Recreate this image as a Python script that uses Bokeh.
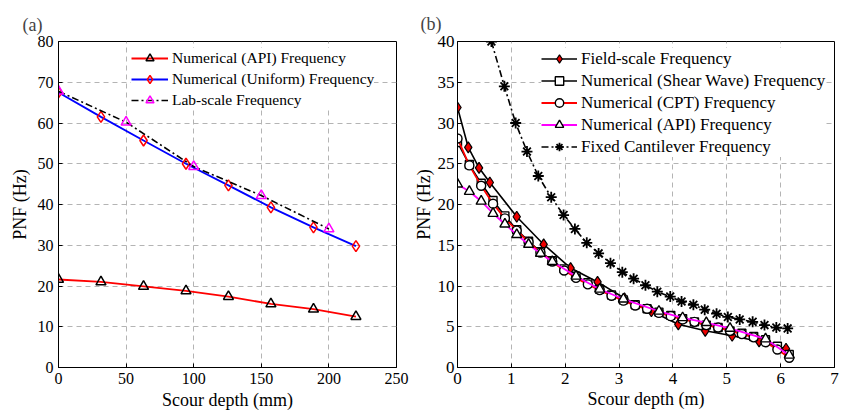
from bokeh.plotting import figure
from bokeh.layouts import row
from bokeh.models import Legend, LegendItem, FixedTicker, Range1d
from bokeh.embed import file_html
from bokeh.resources import INLINE

# ---------------- Panel (a) data ----------------
a_x_num = [0, 31.4, 62.9, 94.3, 125.7, 157.1, 188.6, 220]
a_api = [21.6, 21.0, 19.9, 18.8, 17.4, 15.6, 14.3, 12.5]
a_uniform = [67.5, 61.5, 55.7, 50.0, 44.7, 39.3, 34.4, 29.8]
a_x_lab = [0, 50, 100, 150, 200]
a_lab = [67.8, 60.2, 49.3, 42.2, 34.0]
a_xticks = [0, 50, 100, 150, 200, 250]
a_yticks = [0, 10, 20, 30, 40, 50, 60, 70, 80]

# ---------------- Panel (b) data ----------------
b_x_field = [0, 0.2, 0.4, 0.6, 1.1, 1.6, 2.1, 2.6, 3.1, 3.6, 4.1, 4.6, 5.1, 5.6, 6.1]
b_field = [31.9, 27.0, 24.5, 22.7, 18.5, 15.1, 12.2, 10.5, 8.5, 6.9, 5.3, 4.5, 3.9, 3.2, 2.3]

b_x_num = [0, 0.22, 0.44, 0.66, 0.88, 1.10, 1.32, 1.54, 1.76, 1.98, 2.20, 2.42, 2.64, 2.86,
           3.08, 3.30, 3.52, 3.74, 3.96, 4.18, 4.40, 4.62, 4.84, 5.06, 5.28, 5.50, 5.72, 5.94, 6.16]
b_shear = [27.6, 24.9, 22.6, 20.5, 18.6, 16.9, 15.5, 14.2, 13.1, 12.1, 11.2, 10.4, 9.6, 8.9,
           8.3, 7.7, 7.2, 6.8, 6.4, 6.0, 5.6, 5.2, 4.9, 4.5, 4.2, 3.8, 3.4, 2.6, 1.6]
b_cpt = [28.1, 24.8, 22.3, 20.1, 18.3, 16.8, 15.4, 14.1, 13.0, 11.9, 11.0, 10.2, 9.5, 8.8,
         8.2, 7.6, 7.2, 6.7, 6.3, 5.9, 5.6, 5.2, 4.9, 4.5, 4.1, 3.7, 3.1, 2.2, 1.2]

b_x_api = [0, 0.22, 0.44, 0.66, 0.88, 1.10, 1.32, 1.54, 1.76, 2.20, 2.64, 3.08, 3.74, 4.18,
           4.62, 5.06, 5.72, 6.16]
b_api = [22.5, 21.6, 20.4, 18.9, 17.6, 16.3, 15.1, 14.0, 13.0, 11.2, 9.6, 8.4, 6.9, 6.1,
         5.5, 4.8, 3.5, 1.5]

b_x_cant = [0.63, 0.87, 1.08, 1.29, 1.50, 1.74, 1.97, 2.18, 2.40, 2.62, 2.84, 3.06, 3.27,
            3.49, 3.71, 3.95, 4.16, 4.38, 4.59, 4.81, 5.02, 5.24, 5.48, 5.70, 5.92, 6.13]
b_cant = [40.0, 34.5, 30.0, 26.5, 23.5, 20.9, 18.7, 17.0, 15.3, 14.0, 12.8, 11.7, 10.9,
          10.1, 9.3, 8.7, 8.1, 7.7, 7.1, 6.6, 6.2, 5.9, 5.6, 5.2, 4.9, 4.8]
b_xticks = [0, 1, 2, 3, 4, 5, 6, 7]
b_yticks = [0, 5, 10, 15, 20, 25, 30, 35, 40]

FONT = "Liberation Serif"


def style(p, xticks, yticks, xlabel, ylabel, tick_size):
    p.xaxis.ticker = FixedTicker(ticks=xticks)
    p.yaxis.ticker = FixedTicker(ticks=yticks)
    p.xaxis.axis_label = xlabel
    p.yaxis.axis_label = ylabel
    for ax in (p.xaxis[0], p.yaxis[0]):
        ax.axis_label_text_font = FONT
        ax.axis_label_text_font_size = "18px"
        ax.axis_label_text_font_style = "normal"
        ax.axis_label_text_color = "black"
        ax.major_label_text_font = FONT
        ax.major_label_text_font_size = tick_size
        ax.major_label_text_color = "black"
        ax.major_tick_in = 4
        ax.major_tick_out = 0
        ax.minor_tick_line_color = None
        ax.axis_line_color = "black"
        ax.major_tick_line_color = "black"
    p.xaxis.major_label_standoff = 5
    p.xaxis.axis_label_standoff = 3
    p.yaxis.major_label_standoff = 5
    p.yaxis.axis_label_standoff = 5
    p.grid.grid_line_color = "#b4b4b4"
    p.grid.grid_line_dash = "5 4"
    p.grid.grid_line_width = 1
    p.outline_line_color = "black"
    p.outline_line_alpha = 1
    p.background_fill_color = "white"
    p.border_fill_color = "white"
    p.title.text_font = FONT
    p.title.text_font_size = "18px"
    p.title.text_font_style = "normal"
    p.title.align = "left"
    p.title.standoff = 13


# ---------------- Figure (a) ----------------
pa = figure(width=410, height=412, output_backend="svg", toolbar_location=None,
            x_range=Range1d(0, 250), y_range=Range1d(0, 80), title="(a)",
            min_border_left=58, min_border_right=14, min_border_top=39, min_border_bottom=44)
style(pa, a_xticks, a_yticks, "Scour depth (mm)", "PNF (Hz)", "16px")
pa.title.offset = -36

ra1 = pa.line(a_x_num, a_api, line_color="#ff0000", line_width=1.8)
ra1m = pa.scatter(a_x_num, a_api, marker="triangle", size=10, fill_color=None,
                  line_color="black", line_width=1.5)
ra2 = pa.line(a_x_num, a_uniform, line_color="#0000ff", line_width=1.8)
ra2m = pa.scatter(a_x_num, a_uniform, marker="diamond", size=11, fill_color=None,
                  line_color="#ff0000", line_width=1.5)
ra3 = pa.line(a_x_lab, a_lab, line_color="black", line_width=1.6, line_dash="7 3 2 3")
ra3m = pa.scatter(a_x_lab, a_lab, marker="triangle", size=10, fill_color=None,
                  line_color="#ff00ff", line_width=1.5)

leg_a = Legend(items=[
    LegendItem(label="Numerical (API) Frequency", renderers=[ra1, ra1m]),
    LegendItem(label="Numerical (Uniform) Frequency", renderers=[ra2, ra2m]),
    LegendItem(label="Lab-scale Frequency", renderers=[ra3, ra3m]),
], location=(73, 257))
leg_a.label_text_font = FONT
leg_a.label_text_font_size = "15.5px"
leg_a.label_text_color = "black"
leg_a.glyph_width = 37
leg_a.glyph_height = 20
leg_a.label_height = 20
leg_a.label_standoff = 4
leg_a.spacing = 1
leg_a.padding = 4
leg_a.margin = 0
leg_a.border_line_color = None
leg_a.background_fill_color = "white"
leg_a.background_fill_alpha = 1
pa.add_layout(leg_a)

# ---------------- Figure (b) ----------------
pb = figure(width=429, height=412, output_backend="svg", toolbar_location=None,
            x_range=Range1d(0, 7), y_range=Range1d(0, 40), title="(b)",
            min_border_left=45, min_border_right=5, min_border_top=41, min_border_bottom=44)
style(pb, b_xticks, b_yticks, "Scour depth (m)", "PNF (Hz)", "17px")
pb.yaxis.major_label_standoff = 3
pb.yaxis.axis_label_standoff = 1
pb.xaxis.axis_label_standoff = 2
pb.title.offset = -37
pb.title.standoff = 15

rb1 = pb.line(b_x_field, b_field, line_color="black", line_width=1.6)
rb1m = pb.scatter(b_x_field, b_field, marker="diamond", size=11, fill_color="#ee0000",
                  line_color="black", line_width=1.2)
rb2 = pb.line(b_x_num, b_shear, line_color="black", line_width=1.6)
rb2m = pb.scatter(b_x_num, b_shear, marker="square", size=8, fill_color="white",
                  line_color="black", line_width=1.4)
rb3 = pb.line(b_x_num, b_cpt, line_color="#ff0000", line_width=1.8)
rb3m = pb.scatter(b_x_num, b_cpt, marker="circle", size=9, fill_color="white",
                  line_color="black", line_width=1.4)
rb4 = pb.line(b_x_api, b_api, line_color="#ff00ff", line_width=1.8)
rb4m = pb.scatter(b_x_api, b_api, marker="triangle", size=10, fill_color="white",
                  line_color="black", line_width=1.4)
rb5 = pb.line(b_x_cant, b_cant, line_color="black", line_width=1.6, line_dash="7 3 2 3")
rb5m = pb.scatter(b_x_cant, b_cant, marker="asterisk", size=11, line_color="black",
                  line_width=1.8)

leg_b = Legend(items=[
    LegendItem(label="Field-scale Frequency", renderers=[rb1, rb1m]),
    LegendItem(label="Numerical (Shear Wave) Frequency", renderers=[rb2, rb2m]),
    LegendItem(label="Numerical (CPT) Frequency", renderers=[rb3, rb3m]),
    LegendItem(label="Numerical (API) Frequency", renderers=[rb4, rb4m]),
    LegendItem(label="Fixed Cantilever Frequency", renderers=[rb5, rb5m]),
], location=(84, 210))
leg_b.label_text_font = FONT
leg_b.label_text_font_size = "17px"
leg_b.label_text_color = "black"
leg_b.glyph_width = 36
leg_b.glyph_height = 21
leg_b.label_height = 21
leg_b.label_standoff = 4
leg_b.spacing = 1
leg_b.padding = 4
leg_b.margin = 0
leg_b.border_line_color = None
leg_b.background_fill_color = "white"
leg_b.background_fill_alpha = 1
pb.add_layout(leg_b)

layout = row(pa, pb)
open("out.html", "w").write(file_html(layout, INLINE))
